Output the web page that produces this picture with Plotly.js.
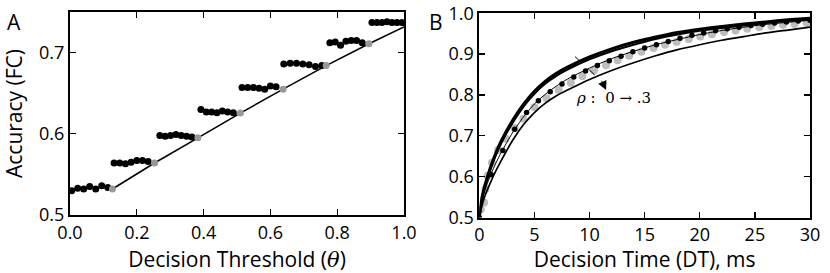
<!DOCTYPE html>
<html>
<head>
<meta charset="utf-8">
<script src="https://cdn.plot.ly/plotly-3.0.1.min.js"></script>
<style>html,body{margin:0;padding:0;background:#fff;}#chart{width:830px;height:273px;}</style>
</head>
<body>
<div id="chart"></div>
<script>
// ---------- Panel A : accuracy vs decision threshold ----------
const aBlackX = [0.005,0.023,0.041,0.059,0.077,0.095,0.113,
                 0.132,0.149,0.166,0.183,0.200,0.217,0.234,
                 0.269,0.285,0.301,0.317,0.333,0.349,0.365,
                 0.392,0.408,0.424,0.440,0.456,0.472,0.489,
                 0.515,0.532,0.549,0.566,0.583,0.600,0.617,
                 0.640,0.659,0.678,0.697,0.716,0.735,0.754,
                 0.778,0.794,0.810,0.826,0.842,0.858,0.875,
                 0.904,0.919,0.934,0.949,0.964,0.979,0.994];
const aBlackY = [0.530,0.533,0.532,0.535,0.532,0.536,0.534,
                 0.564,0.564,0.563,0.565,0.567,0.567,0.566,
                 0.598,0.597,0.598,0.599,0.598,0.597,0.596,
                 0.630,0.627,0.627,0.626,0.628,0.627,0.626,
                 0.657,0.657,0.657,0.656,0.655,0.659,0.658,
                 0.686,0.687,0.687,0.686,0.685,0.683,0.684,
                 0.712,0.713,0.709,0.714,0.715,0.715,0.712,
                 0.737,0.737,0.737,0.738,0.737,0.737,0.737];
const aGrayX = [0.127,0.253,0.383,0.510,0.638,0.767,0.895];
const aGrayY = [0.532,0.564,0.595,0.6255,0.655,0.684,0.711];
const aLineX = [0.127,0.253,0.383,0.510,0.638,0.767,0.895,1.0];
const aLineY = [0.532,0.564,0.595,0.6255,0.655,0.684,0.711,0.7317];
const aXTicks = [0,0.2,0.4,0.6,0.8,1.0];
const aXTickText = ['0.0','0.2','0.4','0.6','0.8','1.0'];
const aYTicks = [0.5,0.6,0.7];
const aYTickText = ['0.5','0.6','0.7'];

// ---------- Panel B : accuracy vs decision time ----------
const bCurveT = [0,0.25,0.5,1,1.5,2,3,4,5,6,7,8,10,12,14,16,18,20,22,24,26,28,30];
const bTopY   = [0.5,0.55,0.578,0.622,0.658,0.688,0.737,0.777,0.809,0.834,0.853,0.868,0.893,0.913,0.929,0.942,0.953,0.961,0.968,0.974,0.979,0.984,0.988];
const bTop2Y  = [0.5,0.546,0.573,0.616,0.652,0.682,0.731,0.771,0.803,0.828,0.847,0.862,0.887,0.907,0.923,0.937,0.948,0.957,0.964,0.970,0.976,0.981,0.985];
const bLowY   = [0.5,0.53,0.552,0.585,0.614,0.64,0.688,0.727,0.757,0.78,0.798,0.812,0.838,0.86,0.879,0.896,0.911,0.923,0.934,0.943,0.952,0.959,0.966];
const bMidLineY = [0.5,0.54,0.565,0.603,0.633,0.66,0.707,0.746,0.778,0.802,0.822,0.839,0.866,0.889,0.907,0.923,0.936,0.948,0.958,0.966,0.973,0.978,0.983];
const bDotT  = [0,1.07,2.14,3.21,4.29,5.36,6.43,7.5,8.57,9.64,10.71,11.79,12.86,13.93,15.0,16.07,17.14,18.21,19.29,20.36,21.43,22.5,23.57,24.64,25.71,26.79,27.86,28.93,30.0];
const bDotY  = [0.5,0.605,0.664,0.716,0.757,0.786,0.808,0.827,0.844,0.859,0.872,0.884,0.895,0.906,0.915,0.923,0.931,0.939,0.946,0.952,0.957,0.962,0.966,0.97,0.973,0.976,0.979,0.981,0.983];
const bGrayT = [0.15,0.43,0.55,0.75,1.15,1.7,2.4,3.2,4.0,5.0,6.1,7.2,8.3,9.35,10.4,11.5,12.55,13.6,14.7,15.8,16.85,17.9,19.0,20.05,21.1,22.2,23.25,24.3,25.4,26.5,27.55,28.6,29.7];
const bGrayY = [0.52,0.537,0.569,0.602,0.634,0.665,0.693,0.72,0.742,0.77,0.792,0.812,0.83,0.846,0.86,0.873,0.885,0.896,0.906,0.915,0.923,0.93,0.937,0.943,0.949,0.954,0.958,0.962,0.966,0.969,0.972,0.974,0.976];
const bXTicks = [0,5,10,15,20,25,30];
const bYTicks = [0.5,0.6,0.7,0.8,0.9,1.0];
const bYTickText = ['0.5','0.6','0.7','0.8','0.9','1.0'];
const rhoLabel = '<i>ρ</i>\u00a0:\u00a0\u00a00\u00a0→\u00a0.3';

const spl = {shape:'spline', smoothing:0.6};
const traces = [
  {x:aLineX, y:aLineY, xaxis:'x', yaxis:'y', mode:'lines', line:{color:'black', width:1.6}},
  {x:aBlackX, y:aBlackY, xaxis:'x', yaxis:'y', mode:'markers', marker:{color:'black', size:7}},
  {x:aGrayX, y:aGrayY, xaxis:'x', yaxis:'y', mode:'markers', marker:{color:'#999999', size:7}},

  {x:bGrayT, y:bGrayY, xaxis:'x2', yaxis:'y2', mode:'markers', marker:{color:'#bdbdbd', size:8}},
  {x:bCurveT, y:bLowY, xaxis:'x2', yaxis:'y2', mode:'lines', line:Object.assign({color:'black', width:1.7}, spl)},
  {x:bCurveT, y:bTop2Y, xaxis:'x2', yaxis:'y2', mode:'lines', line:Object.assign({color:'black', width:2}, spl)},
  {x:bCurveT, y:bTopY, xaxis:'x2', yaxis:'y2', mode:'lines', line:Object.assign({color:'black', width:3}, spl)},
  {x:bCurveT, y:bMidLineY, xaxis:'x2', yaxis:'y2', mode:'lines', line:Object.assign({color:'black', width:1}, spl)},
  {x:bDotT, y:bDotY, xaxis:'x2', yaxis:'y2', mode:'markers', marker:{color:'black', size:5.5}}
];

const axisCommon = {
  ticks:'inside', ticklen:6, tickwidth:1.3, tickcolor:'black',
  showline:true, linewidth:2, linecolor:'black', mirror:'ticks',
  showgrid:false, zeroline:false, tickfont:{size:18, color:'black'}
};

const layout = {
  width:830, height:273,
  margin:{l:0, r:0, t:0, b:0},
  paper_bgcolor:'white', plot_bgcolor:'white',
  showlegend:false,
  font:{family:'Open Sans', color:'black'},
  xaxis: Object.assign({}, axisCommon, {
    domain:[70/830, 404/830], range:[0,1], anchor:'y',
    tickmode:'array', tickvals:aXTicks, ticktext:aXTickText,
    title:{text:'Decision Threshold (<span style="font-family:DejaVu Serif"><i>θ</i></span>)', font:{size:21}, standoff:10}
  }),
  yaxis: Object.assign({}, axisCommon, {
    domain:[58/273, 261/273], range:[0.5,0.75], anchor:'x',
    tickmode:'array', tickvals:aYTicks, ticktext:aYTickText,
    title:{text:'Accuracy (FC)', font:{size:21}, standoff:12}
  }),
  xaxis2: Object.assign({}, axisCommon, {
    domain:[479.3/830, 810/830], range:[0,30], anchor:'y2',
    tickmode:'array', tickvals:bXTicks,
    title:{text:'Decision Time (DT), ms', font:{size:21}, standoff:10}
  }),
  yaxis2: Object.assign({}, axisCommon, {
    domain:[55.5/273, 259.7/273], range:[0.5,1.0], anchor:'x2',
    tickmode:'array', tickvals:bYTicks, ticktext:bYTickText
  }),
  shapes:[
    {type:'line', xref:'x2', yref:'y2', x0:8.68, y0:0.894, x1:11.15, y1:0.832,
     line:{color:'black', width:1, dash:'dash'}}
  ],
  annotations:[
    {text:'A', xref:'paper', yref:'paper', x:14/830, y:1-22/273, showarrow:false, font:{size:21}, xanchor:'center', yanchor:'middle'},
    {text:'B', xref:'paper', yref:'paper', x:436/830, y:1-22/273, showarrow:false, font:{size:21}, xanchor:'center', yanchor:'middle'},
    {text:'', xref:'x2', yref:'y2', x:11.5, y:0.812, axref:'x2', ayref:'y2', ax:11.1, ay:0.836,
     showarrow:true, arrowhead:2, arrowsize:1.8, arrowwidth:1, arrowcolor:'black'},
    {text:rhoLabel, xref:'x2', yref:'y2', x:12.13, y:0.793, showarrow:false,
     font:{family:'DejaVu Serif', size:15, color:'black'}, xanchor:'center', yanchor:'middle'}
  ]
};

Plotly.newPlot('chart', traces, layout, {staticPlot:true, displayModeBar:false});
</script>
</body>
</html>
